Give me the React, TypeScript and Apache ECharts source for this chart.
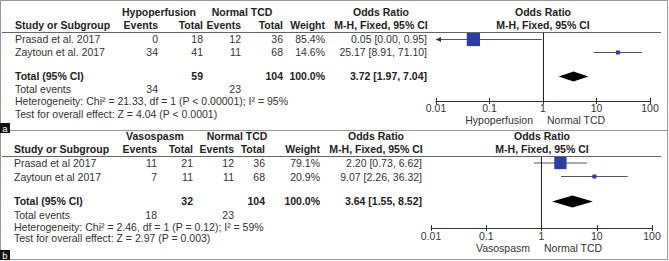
import React, { useEffect, useRef } from "react";
import * as echarts from "echarts";

// ---------- Data: panel a (Hypoperfusion vs Normal TCD) ----------
const studiesA = ["Prasad et al. 2017", "Zaytoun et al. 2017"];
const expEventsA = [0, 34];
const expTotalA = [18, 41];
const ctlEventsA = [12, 11];
const ctlTotalA = [36, 68];
const weightA = [85.4, 14.6];
const orA = [0.05, 25.17];
const loA = [0.0, 8.91];
const hiA = [0.95, 71.1];
const pooledA = [3.72, 1.97, 7.04];
const totalsA = [59, 104];
const totalEventsA = [34, 23];
const hetA = "Heterogeneity: Chi\u00b2 = 21.33, df = 1 (P < 0.00001); I\u00b2 = 95%";
const testA = "Test for overall effect: Z = 4.04 (P < 0.0001)";

// ---------- Data: panel b (Vasospasm vs Normal TCD) ----------
const studiesB = ["Prasad et al 2017", "Zaytoun et al 2017"];
const expEventsB = [11, 7];
const expTotalB = [21, 11];
const ctlEventsB = [12, 11];
const ctlTotalB = [36, 68];
const weightB = [79.1, 20.9];
const orB = [2.2, 9.07];
const loB = [0.73, 2.26];
const hiB = [6.62, 36.32];
const pooledB = [3.64, 1.55, 8.52];
const totalsB = [32, 104];
const totalEventsB = [18, 23];
const hetB = "Heterogeneity: Chi\u00b2 = 2.46, df = 1 (P = 0.12); I\u00b2 = 59%";
const testB = "Test for overall effect: Z = 2.97 (P = 0.003)";

// ---------- Axis ----------
const tickValues = [0.01, 0.1, 1, 10, 100];
const tickLabels = ["0.01", "0.1", "1", "10", "100"];
const rowIndex = [1, 2];
const totalRow = 3.85;

const FONT = '"Liberation Sans", Arial, sans-serif';
const FS = 10.5;
const TXT = "#333";
const BOLD = "#222";

function txt(x: number, y: number, text: string, align: string = "left", bold = false, color?: string, size = FS) {
  return {
    type: "text",
    silent: true,
    z: 10,
    style: {
      text,
      x,
      y,
      textAlign: align,
      textVerticalAlign: "middle",
      font: `${bold ? "bold " : ""}${size}px ${FONT}`,
      fill: color ?? (bold ? BOLD : TXT),
    },
  };
}

const fmt = (v: number) => v.toFixed(2);

function panelTexts(
  L: any,
  groupName: string,
  studies: string[],
  expEv: number[],
  expTot: number[],
  ctlEv: number[],
  ctlTot: number[],
  weight: number[],
  or: number[],
  lo: number[],
  hi: number[],
  pooled: number[],
  totals: number[],
  totEv: number[],
  het: string,
  test: string
) {
  const out: any[] = [];
  out.push(txt(L.grpExp, L.y.group, groupName, "center", true));
  out.push(txt(L.grpCtl, L.y.group, "Normal TCD", "center", true));
  out.push(txt(L.study, L.y.head, "Study or Subgroup", "left", true));
  out.push(txt(L.expEv, L.y.head, "Events", "right", true));
  out.push(txt(L.expTot, L.y.head, "Total", "right", true));
  out.push(txt(L.ctlEv, L.y.head, "Events", "right", true));
  out.push(txt(L.ctlTot, L.y.head, "Total", "right", true));
  out.push(txt(L.weight, L.y.head, "Weight", "right", true));
  out.push(txt(L.orHead, L.y.group, "Odds Ratio", "center", true));
  out.push(txt(L.orHead, L.y.head, "M-H, Fixed, 95% CI", "center", true));
  out.push(txt(L.plotHead, L.y.group, "Odds Ratio", "center", true));
  out.push(txt(L.plotHead, L.y.head, "M-H, Fixed, 95% CI", "center", true));
  studies.forEach((s, i) => {
    const y = L.y.rows[i];
    out.push(txt(L.study, y, s));
    out.push(txt(L.expEv, y, String(expEv[i]), "right"));
    out.push(txt(L.expTot, y, String(expTot[i]), "right"));
    out.push(txt(L.ctlEv, y, String(ctlEv[i]), "right"));
    out.push(txt(L.ctlTot, y, String(ctlTot[i]), "right"));
    out.push(txt(L.weight, y, weight[i].toFixed(1) + "%", "right"));
    out.push(txt(L.orTxt, y, `${fmt(or[i])} [${fmt(lo[i])}, ${fmt(hi[i])}]`, "right"));
  });
  out.push(txt(L.study, L.y.total, "Total (95% CI)", "left", true));
  out.push(txt(L.expTot, L.y.total, String(totals[0]), "right", true));
  out.push(txt(L.ctlTot, L.y.total, String(totals[1]), "right", true));
  out.push(txt(L.weight, L.y.total, weight.reduce((a, b) => a + b, 0).toFixed(1) + "%", "right", true));
  out.push(txt(L.orTxt, L.y.total, `${fmt(pooled[0])} [${fmt(pooled[1])}, ${fmt(pooled[2])}]`, "right", true));
  out.push(txt(L.study, L.y.totEv, "Total events"));
  out.push(txt(L.expEv, L.y.totEv, String(totEv[0]), "right"));
  out.push(txt(L.ctlEv, L.y.totEv, String(totEv[1]), "right"));
  out.push(txt(L.study, L.y.het, het));
  out.push(txt(L.study, L.y.test, test));
  out.push(txt(L.footL, L.y.foot, groupName, "right"));
  out.push(txt(L.footR, L.y.foot, "Normal TCD", "left"));
  out.push({
    type: "line",
    silent: true,
    z: 5,
    shape: { x1: 2, y1: L.headLine, x2: 661, y2: L.headLine },
    style: { stroke: "#666", lineWidth: 1 },
  });
  return out;
}

const layoutA = {
  study: 15, expEv: 158, expTot: 203, ctlEv: 241, ctlTot: 283, weight: 325,
  orTxt: 427, orHead: 381, plotHead: 543, grpExp: 159, grpCtl: 242,
  footL: 533, footR: 547, headLine: 32.5,
  y: { group: 12, head: 25, rows: [39, 52], total: 76, totEv: 89, het: 101, test: 114, foot: 119.5 },
};
const layoutB = {
  study: 14, expEv: 157, expTot: 193, ctlEv: 234, ctlTot: 265, weight: 320,
  orTxt: 422, orHead: 376, plotHead: 542, grpExp: 155, grpCtl: 237,
  footL: 530, footR: 544, headLine: 156.5,
  y: { group: 136, head: 149, rows: [163, 177], total: 201, totEv: 215, het: 227, test: 238, foot: 247.5 },
};

const labelFmt = (v: number) => {
  const i = tickValues.findIndex((t) => Math.abs(Math.log10(t) - Math.log10(v)) < 1e-6);
  return i >= 0 ? tickLabels[i] : "";
};

function studyRender(xMin: number) {
  return (params: any, api: any) => {
    const or = api.value(0);
    const lo = api.value(1);
    const hi = api.value(2);
    const row = api.value(3);
    const w = api.value(4);
    const clipped = lo < xMin;
    const pL = api.coord([clipped ? xMin : lo, row]);
    const pH = api.coord([hi, row]);
    const pC = api.coord([or, row]);
    const s = Math.max(4, (15.5 * w) / 100);
    const children: any[] = [
      {
        type: "line",
        shape: { x1: pL[0], y1: pL[1], x2: pH[0], y2: pH[1] },
        style: { stroke: "#555", lineWidth: 1 },
      },
      {
        type: "rect",
        shape: { x: pC[0] - s / 2, y: pC[1] - s / 2, width: s, height: s },
        style: { fill: "#2c3ca8" },
      },
    ];
    if (clipped) {
      children.push({
        type: "polygon",
        shape: { points: [[pL[0], pL[1]], [pL[0] + 5, pL[1] - 2.5], [pL[0] + 5, pL[1] + 2.5]] },
        style: { fill: "#333" },
      });
    }
    return { type: "group", children };
  };
}

function diamondRender(h: number) {
  return (params: any, api: any) => {
    const est = api.value(0);
    const lo = api.value(1);
    const hi = api.value(2);
    const row = api.value(3);
    const pL = api.coord([lo, row]);
    const pH = api.coord([hi, row]);
    const pC = api.coord([est, row]);
    return {
      type: "polygon",
      shape: { points: [[pL[0], pL[1]], [pC[0], pC[1] - h], [pH[0], pH[1]], [pC[0], pC[1] + h]] },
      style: { fill: "#000" },
    };
  };
}

function xAxes(gridIndex: number, margin: number) {
  return [
    {
      type: "log",
      logBase: 10,
      gridIndex,
      min: tickValues[0],
      max: tickValues[tickValues.length - 1],
      axisLine: { show: true, lineStyle: { color: "#333", width: 1 } },
      axisTick: { show: true, length: 3, inside: false, lineStyle: { color: "#333" } },
      axisLabel: { show: true, fontSize: FS, fontFamily: FONT, color: TXT, margin, formatter: labelFmt },
      splitLine: { show: false },
    },
    {
      type: "log",
      logBase: 10,
      gridIndex,
      position: "bottom",
      min: tickValues[0],
      max: tickValues[tickValues.length - 1],
      axisLine: { show: false },
      axisTick: { show: true, length: 3, inside: true, lineStyle: { color: "#333" } },
      axisLabel: { show: false },
      splitLine: { show: false },
    },
  ];
}

export default function App() {
  const ref = useRef<HTMLDivElement>(null);
  useEffect(() => {
    if (!ref.current) return;
    const chart = echarts.init(ref.current, undefined, { renderer: "svg" });

    const studyDataA = orA.map((v, i) => [v, loA[i], hiA[i], rowIndex[i], weightA[i]]);
    const studyDataB = orB.map((v, i) => [v, loB[i], hiB[i], rowIndex[i], weightB[i]]);

    const graphics: any[] = [
      {
        type: "rect",
        silent: true,
        z: 1,
        shape: { x: 0.5, y: 0.5, width: 667, height: 259 },
        style: { fill: "none", stroke: "#999", lineWidth: 1 },
      },
      {
        type: "line",
        silent: true,
        z: 1,
        shape: { x1: 0, y1: 130.5, x2: 668, y2: 130.5 },
        style: { stroke: "#999", lineWidth: 1 },
      },
      { type: "rect", silent: true, z: 20, shape: { x: 0, y: 123, width: 10, height: 10 }, style: { fill: "#111" } },
      txt(5, 128, "a", "center", false, "#fff", 9.5),
      { type: "rect", silent: true, z: 20, shape: { x: 0, y: 250, width: 10, height: 10 }, style: { fill: "#111" } },
      txt(5, 255, "b", "center", false, "#fff", 9.5),
      ...panelTexts(layoutA, "Hypoperfusion", studiesA, expEventsA, expTotalA, ctlEventsA, ctlTotalA, weightA, orA, loA, hiA, pooledA, totalsA, totalEventsA, hetA, testA),
      ...panelTexts(layoutB, "Vasospasm", studiesB, expEventsB, expTotalB, ctlEventsB, ctlTotalB, weightB, orB, loB, hiB, pooledB, totalsB, totalEventsB, hetB, testB),
    ];
    graphics.forEach((g) => {
      if (g.type === "text" && (g.style.text === "a" || g.style.text === "b")) g.z = 30;
    });

    const vline = {
      silent: true,
      symbol: ["none", "none"],
      label: { show: false },
      lineStyle: { color: "#222", type: "solid", width: 1 },
      data: [{ xAxis: 1 }],
    };

    const option: any = {
      animation: false,
      backgroundColor: "#fff",
      grid: [
        { left: 436, width: 214, top: 32.5, height: 68.5 },
        { left: 431, width: 221, top: 156.5, height: 71.5 },
      ],
      xAxis: [...xAxes(0, 1), ...xAxes(1, 2)],
      yAxis: [
        { type: "value", gridIndex: 0, inverse: true, min: 1 - 7 / 13, max: 1 - 7 / 13 + 68.5 / 13, show: false },
        { type: "value", gridIndex: 1, inverse: true, min: 1 - 6.5 / 13.5, max: 1 - 6.5 / 13.5 + 71.5 / 13.5, show: false },
      ],
      graphic: graphics,
      series: [
        {
          type: "custom",
          xAxisIndex: 0,
          yAxisIndex: 0,
          renderItem: studyRender(tickValues[0]),
          encode: { x: 0, y: 3 },
          data: studyDataA,
          clip: false,
          markLine: vline,
          z: 3,
        },
        {
          type: "custom",
          xAxisIndex: 0,
          yAxisIndex: 0,
          renderItem: diamondRender(5),
          encode: { x: 0, y: 3 },
          data: [[pooledA[0], pooledA[1], pooledA[2], totalRow]],
          z: 3,
        },
        {
          type: "custom",
          xAxisIndex: 2,
          yAxisIndex: 1,
          renderItem: studyRender(tickValues[0]),
          encode: { x: 0, y: 3 },
          data: studyDataB,
          clip: false,
          markLine: vline,
          z: 3,
        },
        {
          type: "custom",
          xAxisIndex: 2,
          yAxisIndex: 1,
          renderItem: diamondRender(6),
          encode: { x: 0, y: 3 },
          data: [[pooledB[0], pooledB[1], pooledB[2], totalRow]],
          z: 3,
        },
      ],
    };
    chart.setOption(option);
    return () => chart.dispose();
  }, []);
  return (
    <div
      ref={ref}
      style={{ position: "fixed", left: 0, top: 0, width: 669, height: 261, background: "#fff" }}
    />
  );
}
